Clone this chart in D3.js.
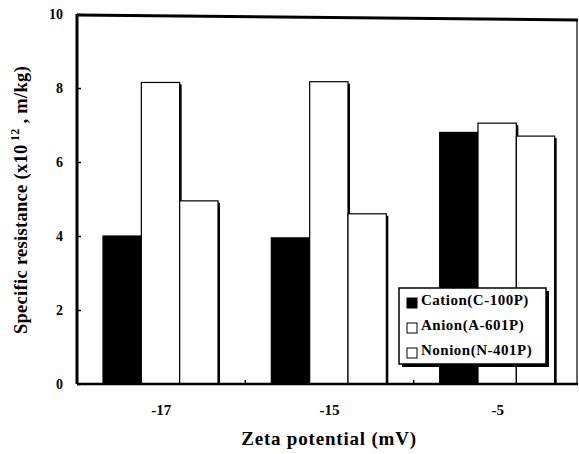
<!DOCTYPE html>
<html>
<head>
<meta charset="utf-8">
<script src="https://cdn.jsdelivr.net/npm/d3@7"></script>
<style>
body { margin: 0; background: #fff; }
text { font-family: "Liberation Serif", "Times New Roman", serif; font-weight: bold; fill: #000; }
</style>
</head>
<body>
<div class="container"></div>
<script>
var groups = ["-17", "-15", "-5"];
var seriesNames = ["Cation(C-100P)", "Anion(A-601P)", "Nonion(N-401P)"];
var cation = [4.0, 3.95, 6.8];
var anion = [8.15, 8.17, 7.05];
var nonion = [4.95, 4.6, 6.7];
var yTicks = [0, 2, 4, 6, 8, 10];
var fills = ["#000", "#fff", "#fff"];

var width = 579, height = 454;
var plotLeft = 77, plotRight = 578, plotTop = 14, plotBottom = 384;

var svg = d3.select(".container").append("svg")
    .attr("width", width)
    .attr("height", height);

var x0 = d3.scaleBand().domain(groups).range([plotLeft, plotRight + 4]);
var x1 = d3.scaleBand().domain(seriesNames).range([26, 141]);
var y = d3.scaleLinear().domain([0, 10]).range([plotBottom, plotTop]);

var data = groups.map((g, i) => ({
    group: g,
    values: [cation[i], anion[i], nonion[i]].map((v, j) => ({ name: seriesNames[j], value: v, fill: fills[j] }))
}));

var gGroups = svg.selectAll("g.grp")
    .data(data)
    .enter()
    .append("g")
    .classed("grp", true)
    .attr("transform", d => "translate(" + x0(d.group) + ",0)");

// shadow on right side of each bar
gGroups.selectAll("rect.shadow")
    .data(d => d.values)
    .enter()
    .append("rect")
    .classed("shadow", true)
    .attr("x", d => x1(d.name) + x1.bandwidth() - 1)
    .attr("y", d => y(d.value) + 2)
    .attr("width", 3)
    .attr("height", d => plotBottom - y(d.value) - 2)
    .attr("fill", "#000");

gGroups.selectAll("rect.bar")
    .data(d => d.values)
    .enter()
    .append("rect")
    .classed("bar", true)
    .attr("x", d => x1(d.name))
    .attr("y", d => y(d.value))
    .attr("width", x1.bandwidth())
    .attr("height", d => plotBottom - y(d.value))
    .attr("fill", d => d.fill)
    .attr("stroke", "#000")
    .attr("stroke-width", 1.2);

// frame
svg.append("line").attr("x1", plotLeft).attr("x2", plotLeft).attr("y1", plotTop).attr("y2", plotBottom)
    .attr("stroke", "#000").attr("stroke-width", 3);
svg.append("line").attr("x1", plotLeft).attr("x2", plotRight).attr("y1", plotBottom).attr("y2", plotBottom)
    .attr("stroke", "#000").attr("stroke-width", 2.5);
svg.append("line").attr("x1", plotLeft).attr("x2", plotRight).attr("y1", plotTop + 1).attr("y2", plotTop + 6)
    .attr("stroke", "#000").attr("stroke-width", 3);
svg.append("line").attr("x1", plotRight - 1).attr("x2", plotRight - 1).attr("y1", plotTop + 5).attr("y2", plotBottom)
    .attr("stroke", "#000").attr("stroke-width", 1.2);

// y axis
var yAxis = d3.axisLeft(y).tickValues(yTicks).tickSizeInner(-4).tickSizeOuter(0).tickPadding(14);
var gy = svg.append("g").attr("transform", "translate(" + plotLeft + ",0)").call(yAxis);
gy.select(".domain").remove();
gy.selectAll(".tick line").attr("stroke-width", 1.5);
gy.selectAll(".tick text").style("font-size", "14px").style("font-family", "Liberation Serif").style("font-weight", "bold");

// x axis
var xAxis = d3.axisBottom(x0).tickSize(0).tickPadding(20);
var gx = svg.append("g").attr("transform", "translate(0," + plotBottom + ")").call(xAxis);
gx.select(".domain").remove();
gx.selectAll(".tick text").style("font-size", "15px").style("font-family", "Liberation Serif").style("font-weight", "bold");
// small ticks at the band edges
svg.selectAll("line.sep")
    .data(groups.slice(1))
    .enter()
    .append("line")
    .classed("sep", true)
    .attr("x1", d => x0(d)).attr("x2", d => x0(d))
    .attr("y1", plotBottom).attr("y2", plotBottom - 4)
    .attr("stroke", "#000").attr("stroke-width", 1.5);

// axis titles
svg.append("text")
    .attr("x", 329)
    .attr("y", 445)
    .attr("text-anchor", "middle")
    .style("font-size", "19px")
    .style("letter-spacing", "0.8px")
    .text("Zeta potential (mV)");

var yt = svg.append("text")
    .attr("transform", "translate(27,200) rotate(-90)")
    .attr("text-anchor", "middle")
    .style("font-size", "18.5px")
    .style("letter-spacing", "0.3px");
yt.append("tspan").text("Specific resistance (x10");
yt.append("tspan").attr("dy", -8).style("font-size", "12px").text(" 12");
yt.append("tspan").attr("dy", 8).text(" ,  m/kg)");

// legend
var lx = 399, ly = 288, lw = 147, lh = 76;
svg.append("rect").attr("x", lx + 3).attr("y", ly + 3).attr("width", lw).attr("height", lh).attr("fill", "#000");
svg.append("rect").attr("x", lx).attr("y", ly).attr("width", lw).attr("height", lh)
    .attr("fill", "#fff").attr("stroke", "#000").attr("stroke-width", 1.5);

var leg = svg.selectAll("g.leg")
    .data(seriesNames)
    .enter()
    .append("g")
    .classed("leg", true)
    .attr("transform", (d, i) => "translate(" + (lx + 8) + "," + (ly + 13 + i * 25) + ")");
leg.append("rect")
    .attr("x", 0).attr("y", -3)
    .attr("width", 10).attr("height", 10)
    .attr("fill", (d, i) => fills[i])
    .attr("stroke", "#000").attr("stroke-width", 1);
leg.append("text")
    .attr("x", 14).attr("y", 4)
    .style("font-size", "15px")
    .style("letter-spacing", "0.5px")
    .text(d => d);
</script>
</body>
</html>
